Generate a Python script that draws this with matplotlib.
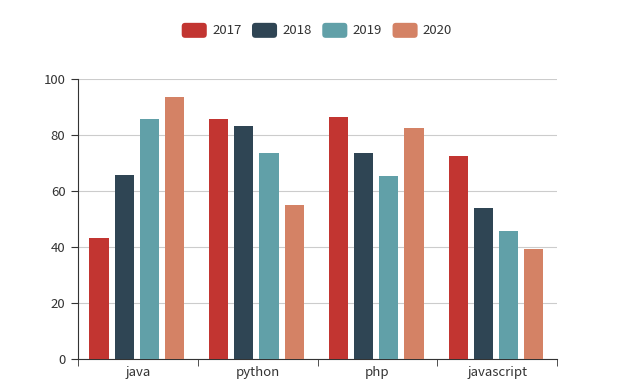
import numpy as np
import matplotlib.pyplot as plt
from matplotlib.patches import FancyBboxPatch
from matplotlib.legend_handler import HandlerPatch

plt.rcParams['font.family'] = ['Noto Sans CJK SC', 'DejaVu Sans']

categorias = ['java', 'python', 'php', 'javascript']
anios = ['2017', '2018', '2019', '2020']
valores = {
    '2017': [43.3, 85.8, 86.4, 72.4],
    '2018': [65.8, 83.1, 73.4, 53.9],
    '2019': [85.7, 73.4, 65.2, 45.6],
    '2020': [93.7, 55.1, 82.5, 39.1],
}
colores = ['#c23531', '#2f4554', '#61a0a8', '#d48265']


class HandlerRound(HandlerPatch):
    def create_artists(self, legend, orig_handle, xdescent, ydescent,
                       width, height, fontsize, trans):
        p = FancyBboxPatch((-xdescent + 1, -ydescent - 0.5), width - 2, height,
                           boxstyle='round,pad=1,rounding_size=2.5',
                           facecolor=orig_handle.get_facecolor(), edgecolor='none',
                           transform=trans)
        return [p]


fig = plt.figure(figsize=(6.19, 3.89), dpi=100)
ax = fig.add_axes([0.126, 0.0771, 0.774, 0.72])

x = np.arange(len(categorias))
paso = 0.21
ancho = 0.16
barras = []
for i, (anio, color) in enumerate(zip(anios, colores)):
    b = ax.bar(x + (i - 1.5) * paso - 0.01, valores[anio], width=ancho, color=color,
               label=anio, zorder=3)
    barras.append(b[0])

ax.set_xlim(-0.5, len(categorias) - 0.5)
ax.set_ylim(0, 100)
ax.set_yticks([0, 20, 40, 60, 80, 100])
ax.yaxis.grid(True, color='#cccccc', linewidth=0.8, zorder=0)
ax.set_xticks(x)
ax.set_xticklabels(categorias)
ax.set_xticks(np.arange(-0.5, len(categorias), 1), minor=True)
ax.tick_params(axis='x', which='major', length=0, pad=5)
ax.tick_params(axis='x', which='minor', length=5, color='#333333')
ax.tick_params(axis='y', length=5, color='#333333', pad=4)
ax.tick_params(labelsize=9.5, labelcolor='#333333')
for s in ['top', 'right']:
    ax.spines[s].set_visible(False)
for s in ['left', 'bottom']:
    ax.spines[s].set_color('#333333')

fig.legend(barras, anios, loc='center', bbox_to_anchor=(0.512, 0.922), ncol=4,
           frameon=False, fontsize=9.5, labelcolor='#333333',
           handlelength=1.9, handleheight=1.05, handletextpad=0.4, columnspacing=0.8,
           handler_map={p: HandlerRound() for p in barras})

fig.savefig('out.png', dpi=100)
